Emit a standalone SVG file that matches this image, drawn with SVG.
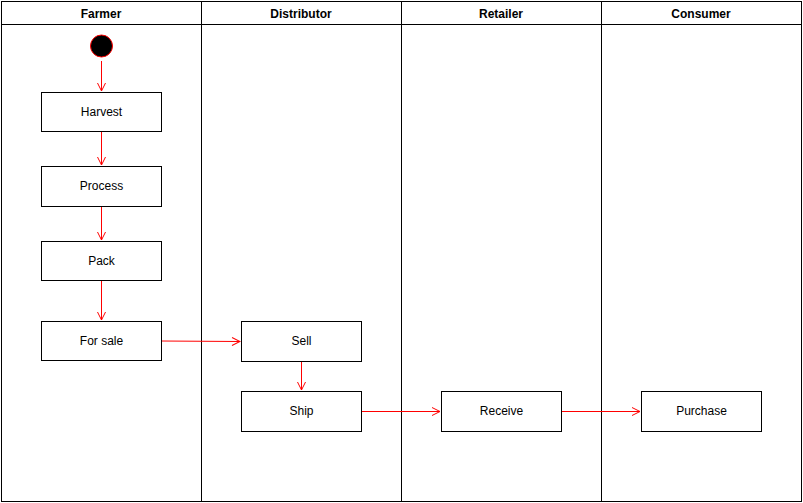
<svg xmlns="http://www.w3.org/2000/svg" width="803" height="503" viewBox="0 0 803 503">
  <style>
    .lane { fill: #ffffff; stroke: #000000; stroke-width: 1; }
    .head { font-family: "Liberation Sans", Arial, sans-serif; font-size: 12px; font-weight: bold; fill: #000000; text-anchor: middle; }
    .box { fill: #ffffff; stroke: #000000; stroke-width: 1; }
    .label { font-family: "Liberation Sans", Arial, sans-serif; font-size: 12px; fill: #000000; text-anchor: middle; dominant-baseline: central; }
    .edge { fill: none; stroke: #ff0000; stroke-width: 1; }
  </style>
  <defs>
    <marker id="open" viewBox="0 0 10 10" refX="9" refY="5" markerWidth="10" markerHeight="10" markerUnits="userSpaceOnUse" orient="auto">
      <path d="M1,1 L9,5 L1,9" fill="none" stroke="#ff0000" stroke-width="1"/>
    </marker>
  </defs>

  <!-- swimlanes -->
  <g id="lanes">
    <g id="lane-farmer">
      <rect class="lane" x="1.5" y="1.5" width="200" height="500"/>
      <line x1="1.5" y1="24.5" x2="201.5" y2="24.5" stroke="#000"/>
      <text class="head" x="101" y="18">Farmer</text>
    </g>
    <g id="lane-distributor">
      <rect class="lane" x="201.5" y="1.5" width="200" height="500"/>
      <line x1="201.5" y1="24.5" x2="401.5" y2="24.5" stroke="#000"/>
      <text class="head" x="301" y="18">Distributor</text>
    </g>
    <g id="lane-retailer">
      <rect class="lane" x="401.5" y="1.5" width="200" height="500"/>
      <line x1="401.5" y1="24.5" x2="601.5" y2="24.5" stroke="#000"/>
      <text class="head" x="501" y="18">Retailer</text>
    </g>
    <g id="lane-consumer">
      <rect class="lane" x="601.5" y="1.5" width="200" height="500"/>
      <line x1="601.5" y1="24.5" x2="801.5" y2="24.5" stroke="#000"/>
      <text class="head" x="701" y="18">Consumer</text>
    </g>
  </g>

  <!-- connectors -->
  <g id="edges">
    <line class="edge" x1="101.5" y1="61" x2="101.5" y2="91" marker-end="url(#open)"/>
    <line class="edge" x1="101.5" y1="131" x2="101.5" y2="165" marker-end="url(#open)"/>
    <line class="edge" x1="101.5" y1="206" x2="101.5" y2="240" marker-end="url(#open)"/>
    <line class="edge" x1="101.5" y1="280" x2="101.5" y2="320" marker-end="url(#open)"/>
    <line class="edge" x1="161" y1="341" x2="240" y2="341.5" marker-end="url(#open)"/>
    <line class="edge" x1="301.5" y1="361" x2="301.5" y2="390" marker-end="url(#open)"/>
    <line class="edge" x1="361" y1="411.5" x2="440" y2="411.5" marker-end="url(#open)"/>
    <line class="edge" x1="561" y1="411.5" x2="640" y2="411.5" marker-end="url(#open)"/>
  </g>

  <!-- nodes -->
  <g id="start">
    <circle cx="101.5" cy="46" r="11" fill="#000000" stroke="#ff0000" stroke-width="1"/>
  </g>
  <g id="harvest">
    <rect class="box" x="41.5" y="92.5" width="120" height="39"/>
    <text class="label" x="101.5" y="112">Harvest</text>
  </g>
  <g id="process">
    <rect class="box" x="41.5" y="166.5" width="120" height="40"/>
    <text class="label" x="101.5" y="186">Process</text>
  </g>
  <g id="pack">
    <rect class="box" x="41.5" y="241.5" width="120" height="39"/>
    <text class="label" x="101.5" y="261">Pack</text>
  </g>
  <g id="for-sale">
    <rect class="box" x="41.5" y="321.5" width="120" height="39"/>
    <text class="label" x="101.5" y="341">For sale</text>
  </g>
  <g id="sell">
    <rect class="box" x="241.5" y="321.5" width="120" height="40"/>
    <text class="label" x="301.5" y="341">Sell</text>
  </g>
  <g id="ship">
    <rect class="box" x="241.5" y="391.5" width="120" height="40"/>
    <text class="label" x="301.5" y="411">Ship</text>
  </g>
  <g id="receive">
    <rect class="box" x="441.5" y="391.5" width="120" height="40"/>
    <text class="label" x="501.5" y="411">Receive</text>
  </g>
  <g id="purchase">
    <rect class="box" x="641.5" y="391.5" width="120" height="40"/>
    <text class="label" x="701.5" y="411">Purchase</text>
  </g>
</svg>
